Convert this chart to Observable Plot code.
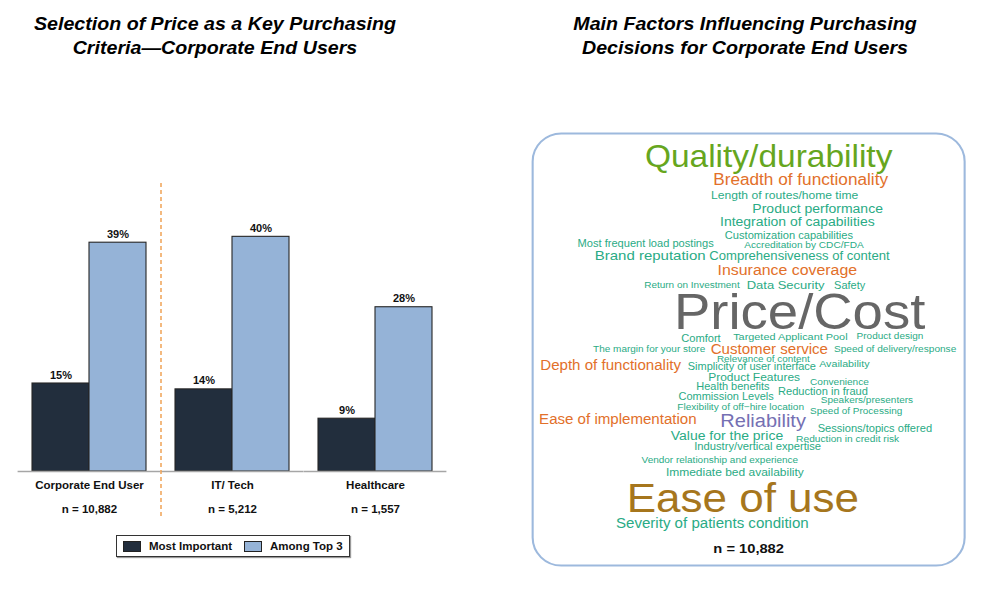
<!DOCTYPE html>
<html>
<head>
<meta charset="utf-8">
<script src="https://cdn.jsdelivr.net/npm/d3@7"></script>
<script src="https://cdn.jsdelivr.net/npm/@observablehq/plot@0.6"></script>
<style>
  html, body { margin: 0; padding: 0; background: #fff; }
  body { width: 1000px; height: 593px; position: relative; overflow: hidden; font-family: "Liberation Sans", Arial, sans-serif; }
  .title { position: absolute; text-align: center; font-weight: bold; font-style: italic; font-size: 18px; line-height: 24px; color: #000;
           transform: scaleX(1.09); transform-origin: center top; }
  #left { position: absolute; left: 0; top: 170px; }
  #right { position: absolute; left: 519.9px; top: 120px; transform: scaleX(1.1); transform-origin: 0 0; }
  #legend { position: absolute; left: 116px; top: 535px; width: 232px; height: 20px; border: 1.5px solid #333; box-shadow: 1px 1px 1px #999;
            display: flex; align-items: center; font-weight: bold; font-size: 11.5px; color: #111; }
  .sw { display: inline-block; width: 16px; height: 9px; border: 1px solid #222; margin: 0 8px 0 6px; }
</style>
</head>
<body>
<div class="title" style="left:15px; top:12px; width:400px;">Selection of Price as a Key Purchasing<br>Criteria—Corporate End Users</div>
<div class="title" style="left:545px; top:12px; width:400px;">Main Factors Influencing Purchasing<br>Decisions for Corporate End Users</div>
<div id="left"></div>
<div id="legend"></div>
<div id="right"></div>
<script>
// ---------- Left chart data ----------
const categories = ["Corporate End User", "IT/ Tech", "Healthcare"];
const sampleSizes = ["n = 10,882", "n = 5,212", "n = 1,557"];
const series = ["Most Important", "Among Top 3"];
const mostImportant = [15, 14, 9];
const amongTop3 = [39, 40, 28];
const seriesColors = ["#222e3d", "#95b3d7"];

// ---------- Word cloud data ----------
const words = ["Quality/durability", "Breadth of functionality", "Length of routes/home time", "Product performance",
  "Integration of capabilities", "Customization capabilities", "Most frequent load postings", "Accreditation by CDC/FDA",
  "Brand reputation", "Comprehensiveness of content", "Insurance coverage", "Return on Investment", "Data Security",
  "Safety", "Price/Cost", "Comfort", "Targeted Applicant Pool", "Product design", "The margin for your store",
  "Customer service", "Speed of delivery/response", "Depth of functionality", "Relevance of content",
  "Simplicity of user interface", "Availability", "Product Features", "Convenience", "Health benefits",
  "Reduction in fraud", "Commission Levels", "Speakers/presenters", "Flexibility of off\u2212hire location",
  "Speed of Processing", "Ease of implementation", "Reliability", "Sessions/topics offered", "Value for the price",
  "Reduction in credit risk", "Industry/vertical expertise", "Vendor relationship and experience",
  "Immediate bed availability", "Ease of use", "Severity of patients condition"];
// layout position of each word inside the cloud box (centre x, baseline y)
const wordX = [236, 268, 252, 285, 264.7, 256.3, 113, 271.3, 117.5, 266.8, 254.7, 159.3, 253, 317, 267, 168.3, 257.7,
  357.3, 116.5, 236.7, 362.5, 78, 230.7, 219.2, 311.7, 221.5, 306.8, 200.3, 290.3, 193.5, 334.3, 208, 323.5, 85.2,
  230.5, 342.2, 194.3, 315, 225, 187.2, 202.2, 210.2, 179.7];
const wordY = [33.7, 52, 65.3, 79.7, 92.7, 105.3, 113.7, 114.7, 126.3, 126.3, 141.3, 154.3, 156, 156, 195.5, 208.7,
  207, 205.3, 218.7, 220.3, 218.7, 237, 228.7, 236.3, 233.7, 248, 252, 256.3, 262, 267, 269.7, 276.3, 281, 291,
  293.7, 298.7, 306.3, 308.7, 317, 329.3, 343, 379, 394.3];
// relative word weight (rendered text width per character-em)
const wordSize = [33.5, 17.2, 12.1, 14, 14, 11.1, 11.1, 10.1, 15, 13.1, 15.9, 10, 13, 11, 54.5, 11.1, 10.9, 10, 10,
  15.1, 10.1, 15.1, 9.9, 11, 10.7, 12, 10.1, 11, 11.1, 11, 10, 10.1, 10, 15.1, 20, 11.1, 14, 10.2, 11.2, 10, 12, 44, 15.1];
const wordGroup = ["green", "orange", "teal", "teal", "teal", "teal", "teal", "teal", "teal", "teal", "orange", "teal",
  "teal", "teal", "gray", "teal", "teal", "teal", "teal", "orange", "teal", "orange", "teal", "teal", "teal", "teal",
  "teal", "teal", "teal", "teal", "teal", "teal", "teal", "orange", "purple", "teal", "teal", "teal", "teal", "teal",
  "teal", "brown", "teal"];
const cloudSample = "n = 10,882";

// ---------- Left grouped bar chart ----------
const rows = [];
categories.forEach((c, i) => {
  rows.push({category: c, series: series[0], value: mostImportant[i]});
  rows.push({category: c, series: series[1], value: amongTop3[i]});
});
const catRows = categories.map((c, i) => ({category: c, n: sampleSizes[i]}));
const font = "Liberation Sans, Arial, sans-serif";

const left = Plot.plot({
  width: 460, height: 360,
  marginLeft: 17, marginRight: 12, marginTop: 37, marginBottom: 59,
  style: {fontFamily: font, background: "transparent", overflow: "visible"},
  fx: {domain: categories, paddingInner: 0.2, paddingOuter: 0.1, axis: null, label: null},
  x: {domain: series, padding: 0, axis: null, label: null},
  y: {domain: [0, 45], axis: null, label: null},
  color: {domain: series, range: seriesColors},
  marks: [
    Plot.barY(rows, {fx: "category", x: "series", y: "value", fill: "series", stroke: "#262626", strokeWidth: 1.1}),
    Plot.ruleY([0], {stroke: "#a6a6a6", strokeWidth: 1.5, insetLeft: -14.4, insetRight: -14.4}),
    Plot.text(rows, {fx: "category", x: "series", y: "value", text: d => d.value + "%", dy: -5, lineAnchor: "bottom",
      fontWeight: "bold", fontSize: 11, fill: "#111"}),
    Plot.text(catRows, {fx: "category", text: "category", frameAnchor: "bottom", dy: 14, lineAnchor: "middle",
      fontWeight: "bold", fontSize: 11.5, fill: "#111"}),
    Plot.text(catRows, {fx: "category", text: "n", frameAnchor: "bottom", dy: 38, lineAnchor: "middle",
      fontWeight: "bold", fontSize: 11.5, fill: "#111"}),
    Plot.ruleX([categories[0]], {fx: d => d, x: () => series[1], dx: 43, insetTop: -24, insetBottom: -48,
      stroke: "#f0a356", strokeWidth: 1.5, strokeDasharray: "4,3"})
  ]
});
document.getElementById("left").appendChild(left);

// legend
const legend = document.getElementById("legend");
series.forEach((s, i) => {
  const sw = document.createElement("span");
  sw.className = "sw";
  sw.style.background = seriesColors[i];
  if (i === 1) sw.style.marginLeft = "12px";
  legend.appendChild(sw);
  const t = document.createElement("span");
  t.textContent = s;
  legend.appendChild(t);
});

// ---------- Right word cloud (drawn narrow, stretched 1.1x horizontally like the source) ----------
const stretch = 1.1;
const palette = {green: "#66a61e", orange: "#e2702a", teal: "#2aab85", gray: "#666666", purple: "#7570b3", brown: "#a6761d"};
const cloud = words.map((w, i) => ({word: w, x: wordX[i], y: wordY[i], size: wordSize[i], color: palette[wordGroup[i]]}));
const boxW = 432 / stretch;

const right = Plot.plot({
  width: 11 + boxW + 14, height: 460,
  marginLeft: 11, marginRight: 14, marginTop: 13, marginBottom: 15,
  style: {fontFamily: font, background: "transparent", overflow: "visible"},
  x: {domain: [0, 432], axis: null},
  y: {domain: [0, 432], reverse: true, axis: null},
  marks: [
    Plot.frame({rx: 26, ry: 28, stroke: "#9db9dd", strokeWidth: 1.9, fill: "white"}),
    Plot.text(cloud, {x: "x", y: "y", text: "word", fontSize: d => d.size / stretch, fill: d => d.color,
      textAnchor: "middle", lineAnchor: "bottom"}),
    Plot.text([cloudSample], {frameAnchor: "bottom", dy: -12, text: d => d, fontWeight: "bold", fontSize: 14 / stretch * 1.05,
      fill: "#111", lineAnchor: "bottom"})
  ]
});
document.getElementById("right").appendChild(right);
</script>
</body>
</html>
